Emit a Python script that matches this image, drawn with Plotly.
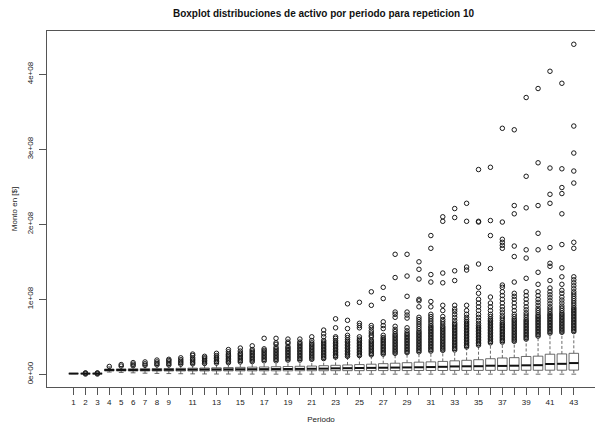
import plotly.graph_objects as go

SCALE = 1e8  # values below are in units of 1e8

periods = list(range(1, 44))

q1 = [0.010, 0.009, 0.009, 0.045, 0.045, 0.045, 0.045, 0.045, 0.045, 0.045,
      0.045, 0.045, 0.046, 0.046, 0.046, 0.046, 0.047, 0.047, 0.047, 0.048,
      0.048, 0.048, 0.049, 0.049, 0.049, 0.050, 0.050, 0.050, 0.050, 0.051,
      0.051, 0.051, 0.052, 0.052, 0.052, 0.053, 0.053, 0.053, 0.054, 0.054,
      0.055, 0.055, 0.056]
median = [0.010, 0.010, 0.010, 0.058, 0.058, 0.058, 0.059, 0.060, 0.061, 0.062,
          0.063, 0.064, 0.065, 0.066, 0.067, 0.068, 0.069, 0.070, 0.071, 0.072,
          0.074, 0.076, 0.080, 0.082, 0.084, 0.086, 0.088, 0.090, 0.092, 0.094,
          0.097, 0.100, 0.105, 0.107, 0.108, 0.115, 0.112, 0.115, 0.120, 0.122,
          0.138, 0.140, 0.150]
q3 = [0.010, 0.011, 0.011, 0.070, 0.072, 0.074, 0.075, 0.077, 0.078, 0.080,
      0.082, 0.084, 0.087, 0.090, 0.093, 0.096, 0.098, 0.101, 0.104, 0.107,
      0.110, 0.115, 0.120, 0.125, 0.130, 0.135, 0.142, 0.148, 0.155, 0.162,
      0.166, 0.172, 0.180, 0.187, 0.195, 0.208, 0.218, 0.222, 0.238, 0.242,
      0.268, 0.272, 0.280]
whisker_low = [0.010, 0.007, 0.007, 0.030, 0.025, 0.020, 0.015, 0.012, 0.010, 0.008,
               0.006, 0.005, 0.004, 0.004, 0.003, 0.003, 0.002, 0.002, 0.002, 0.002,
               0.002, 0.002, 0.002, 0.002, 0.002, 0.002, 0.002, 0.002, 0.002, 0.002,
               0.002, 0.002, 0.002, 0.002, 0.002, 0.002, 0.002, 0.002, 0.002, 0.002,
               0.002, 0.002, 0.002]
whisker_high = [0.010, 0.013, 0.013, 0.100, 0.105, 0.110, 0.115, 0.120, 0.120, 0.130,
                0.135, 0.140, 0.145, 0.150, 0.160, 0.165, 0.170, 0.175, 0.180, 0.185,
                0.190, 0.200, 0.220, 0.230, 0.240, 0.250, 0.260, 0.270, 0.280, 0.290,
                0.300, 0.310, 0.320, 0.360, 0.380, 0.410, 0.420, 0.430, 0.460, 0.500,
                0.540, 0.550, 0.560]

outliers = [
    [],
    [0.004, 0.016, 0.018],
    [0.004, 0.016, 0.018],
    [0.105],
    [0.11, 0.13],
    [0.115, 0.135, 0.156],
    [0.12, 0.14, 0.165],
    [0.125, 0.145, 0.165, 0.19],
    [0.125, 0.145, 0.165, 0.185, 0.20],
    [0.135, 0.155, 0.175, 0.195, 0.22],
    [0.14, 0.16, 0.18, 0.20, 0.22, 0.25, 0.27],
    [0.145, 0.165, 0.185, 0.205, 0.22, 0.24],
    [0.15, 0.17, 0.19, 0.21, 0.23, 0.25, 0.28],
    [0.155, 0.175, 0.195, 0.215, 0.235, 0.255, 0.27, 0.30, 0.33],
    [0.165, 0.185, 0.205, 0.225, 0.245, 0.265, 0.28, 0.31, 0.35],
    [0.17, 0.19, 0.21, 0.23, 0.25, 0.27, 0.29, 0.31, 0.33, 0.38],
    [0.18, 0.20, 0.22, 0.24, 0.26, 0.28, 0.30, 0.32, 0.34, 0.48],
    [0.18, 0.20, 0.22, 0.24, 0.26, 0.28, 0.30, 0.32, 0.34, 0.36, 0.40, 0.42, 0.48],
    [0.19, 0.21, 0.23, 0.25, 0.27, 0.29, 0.31, 0.33, 0.35, 0.37, 0.41, 0.43, 0.47],
    [0.19, 0.21, 0.23, 0.25, 0.27, 0.29, 0.31, 0.33, 0.35, 0.37, 0.39, 0.41, 0.43, 0.47],
    [0.20, 0.22, 0.24, 0.26, 0.28, 0.30, 0.32, 0.34, 0.36, 0.38, 0.40, 0.42, 0.45, 0.50],
    [0.21, 0.23, 0.25, 0.27, 0.29, 0.31, 0.33, 0.35, 0.37, 0.39, 0.41, 0.43, 0.45,
     0.50, 0.54, 0.59],
    [0.23, 0.25, 0.27, 0.29, 0.31, 0.33, 0.35, 0.37, 0.39, 0.41, 0.43, 0.45, 0.48,
     0.50, 0.62, 0.74],
    [0.24, 0.26, 0.28, 0.30, 0.32, 0.34, 0.36, 0.38, 0.40, 0.42, 0.44, 0.46, 0.49,
     0.52, 0.61, 0.72, 0.94],
    [0.25, 0.27, 0.29, 0.31, 0.33, 0.35, 0.37, 0.39, 0.41, 0.43, 0.45, 0.47, 0.50,
     0.62, 0.65, 0.68, 0.96],
    [0.26, 0.28, 0.30, 0.32, 0.34, 0.36, 0.38, 0.40, 0.42, 0.44, 0.46, 0.50, 0.52,
     0.55, 0.58, 0.62, 0.65, 0.92, 1.10],
    [0.27, 0.29, 0.31, 0.33, 0.35, 0.37, 0.39, 0.41, 0.43, 0.45, 0.47, 0.49, 0.52,
     0.61, 0.65, 0.70, 1.01, 1.16],
    [0.28, 0.30, 0.32, 0.34, 0.36, 0.38, 0.40, 0.42, 0.44, 0.46, 0.48, 0.50, 0.52,
     0.54, 0.57, 0.60, 0.64, 0.76, 0.80, 0.83, 1.29, 1.60],
    [0.29, 0.31, 0.33, 0.35, 0.37, 0.39, 0.41, 0.43, 0.45, 0.47, 0.49, 0.51, 0.53,
     0.55, 0.58, 0.62, 0.75, 0.79, 0.83, 1.04, 1.31, 1.60],
    [0.30, 0.32, 0.34, 0.36, 0.38, 0.40, 0.42, 0.44, 0.46, 0.48, 0.50, 0.52, 0.54,
     0.56, 0.58, 0.61, 0.64, 0.67, 0.70, 0.73, 0.76, 0.90, 0.98, 1.00, 1.27, 1.40, 1.50],
    [0.31, 0.33, 0.35, 0.37, 0.39, 0.41, 0.43, 0.45, 0.47, 0.49, 0.51, 0.53, 0.55,
     0.57, 0.59, 0.61, 0.63, 0.65, 0.68, 0.71, 0.74, 0.77, 0.80, 0.90, 0.97, 1.23,
     1.33, 1.68, 1.85],
    [0.32, 0.34, 0.36, 0.38, 0.40, 0.42, 0.44, 0.46, 0.48, 0.50, 0.52, 0.54, 0.56,
     0.58, 0.60, 0.62, 0.64, 0.67, 0.70, 0.73, 0.77, 0.85, 0.92, 1.22, 1.35, 2.04, 2.10],
    [0.325, 0.345, 0.365, 0.385, 0.405, 0.425, 0.445, 0.465, 0.485, 0.505, 0.525,
     0.545, 0.565, 0.585, 0.605, 0.625, 0.645, 0.665, 0.685, 0.72, 0.76, 0.80, 0.84,
     0.87, 0.92, 1.25, 1.38, 2.09, 2.21],
    [0.365, 0.385, 0.405, 0.425, 0.445, 0.465, 0.485, 0.505, 0.525, 0.545, 0.565,
     0.585, 0.605, 0.625, 0.645, 0.665, 0.685, 0.705, 0.73, 0.76, 0.80, 0.85, 0.92,
     1.39, 1.43, 2.04, 2.28],
    [0.39, 0.41, 0.43, 0.45, 0.47, 0.49, 0.51, 0.53, 0.55, 0.57, 0.59, 0.61, 0.63,
     0.65, 0.68, 0.72, 0.76, 0.80, 0.85, 0.90, 0.95, 1.00, 1.08, 1.16, 1.47, 2.03,
     2.04, 2.73],
    [0.42, 0.44, 0.46, 0.48, 0.50, 0.52, 0.54, 0.56, 0.58, 0.60, 0.62, 0.64, 0.66,
     0.68, 0.70, 0.72, 0.74, 0.77, 0.80, 0.85, 0.90, 0.95, 1.03, 1.41, 1.85, 2.05, 2.76],
    [0.43, 0.45, 0.47, 0.49, 0.51, 0.53, 0.55, 0.57, 0.59, 0.61, 0.63, 0.65, 0.67,
     0.69, 0.72, 0.75, 0.78, 0.82, 0.86, 0.90, 0.95, 1.00, 1.05, 1.10, 1.16, 1.19,
     1.68, 1.72, 1.76, 1.80, 2.03, 3.28],
    [0.44, 0.46, 0.48, 0.50, 0.52, 0.54, 0.56, 0.58, 0.60, 0.62, 0.64, 0.66, 0.68,
     0.70, 0.72, 0.74, 0.77, 0.80, 0.85, 0.90, 0.95, 1.00, 1.04, 1.08, 1.23, 1.57,
     1.71, 2.14, 2.25, 3.26],
    [0.47, 0.49, 0.51, 0.53, 0.55, 0.57, 0.59, 0.61, 0.63, 0.65, 0.67, 0.69, 0.71,
     0.73, 0.76, 0.79, 0.82, 0.86, 0.90, 0.95, 1.00, 1.05, 1.10, 1.28, 1.55, 1.66,
     2.22, 2.64, 3.69],
    [0.51, 0.53, 0.55, 0.57, 0.59, 0.61, 0.63, 0.65, 0.67, 0.69, 0.71, 0.73, 0.75,
     0.77, 0.79, 0.82, 0.85, 0.88, 0.92, 0.96, 1.00, 1.05, 1.10, 1.20, 1.36, 1.66,
     1.88, 2.25, 2.82, 3.81],
    [0.55, 0.57, 0.59, 0.61, 0.63, 0.65, 0.67, 0.69, 0.71, 0.73, 0.75, 0.77, 0.79,
     0.81, 0.84, 0.87, 0.90, 0.94, 0.98, 1.02, 1.06, 1.10, 1.15, 1.25, 1.44, 1.48,
     1.69, 2.28, 2.40, 2.75, 4.04],
    [0.56, 0.58, 0.60, 0.62, 0.64, 0.66, 0.68, 0.70, 0.72, 0.74, 0.76, 0.78, 0.80,
     0.82, 0.85, 0.88, 0.91, 0.95, 0.99, 1.03, 1.08, 1.12, 1.20, 1.30, 1.42, 1.73,
     2.14, 2.41, 2.49, 2.74, 3.88],
    [0.57, 0.59, 0.61, 0.63, 0.65, 0.67, 0.69, 0.71, 0.73, 0.75, 0.77, 0.79, 0.81,
     0.83, 0.85, 0.87, 0.89, 0.92, 0.95, 0.98, 1.01, 1.04, 1.07, 1.10, 1.14, 1.18,
     1.22, 1.26, 1.30, 1.68, 1.76, 2.55, 2.71, 2.95, 3.31, 4.40],
]

x_tick_labels = [str(p) if (p < 10 or p % 2 == 1) else "" for p in periods]
y_tick_vals = [0, 1, 2, 3, 4]
y_tick_labels = ["0e+00", "1e+08", "2e+08", "3e+08", "4e+08"]

title_text = "Boxplot distribuciones de activo por periodo para repeticion 10"
x_title = "Periodo"
y_title = "Monto en [$]"

# ---- styling ----
HALF_BOX = 0.4
HALF_STAPLE = 0.2
BOX_COLOR = "#444444"
FONT = "Liberation Sans, Arial, Helvetica, sans-serif"

box_x, box_y = [], []
med_x, med_y = [], []
wh_x, wh_y = [], []
st_x, st_y = [], []
out_x, out_y = [], []

for i, p in enumerate(periods):
    a, m, b = q1[i] * SCALE, median[i] * SCALE, q3[i] * SCALE
    lo, hi = whisker_low[i] * SCALE, whisker_high[i] * SCALE
    box_x += [p - HALF_BOX, p + HALF_BOX, p + HALF_BOX, p - HALF_BOX, p - HALF_BOX, None]
    box_y += [a, a, b, b, a, None]
    med_x += [p - HALF_BOX, p + HALF_BOX, None]
    med_y += [m, m, None]
    wh_x += [p, p, None, p, p, None]
    wh_y += [b, hi, None, a, lo, None]
    st_x += [p - HALF_STAPLE, p + HALF_STAPLE, None, p - HALF_STAPLE, p + HALF_STAPLE, None]
    st_y += [hi, hi, None, lo, lo, None]
    for v in outliers[i]:
        out_x.append(p)
        out_y.append(v * SCALE)

fig = go.Figure()
fig.add_trace(go.Scatter(x=wh_x, y=wh_y, mode="lines",
                         line=dict(color=BOX_COLOR, width=0.8, dash="3px,2px"),
                         hoverinfo="skip", showlegend=False))
fig.add_trace(go.Scatter(x=st_x, y=st_y, mode="lines",
                         line=dict(color=BOX_COLOR, width=0.8),
                         hoverinfo="skip", showlegend=False))
fig.add_trace(go.Scatter(x=box_x, y=box_y, mode="lines", fill="toself", fillcolor="white",
                         line=dict(color=BOX_COLOR, width=0.8),
                         hoverinfo="skip", showlegend=False))
fig.add_trace(go.Scatter(x=med_x, y=med_y, mode="lines",
                         line=dict(color="#111111", width=2),
                         hoverinfo="skip", showlegend=False))
fig.add_trace(go.Scatter(x=out_x, y=out_y, mode="markers",
                         marker=dict(symbol="circle-open", size=4.5,
                                     color="#1a1a1a", line=dict(width=1)),
                         showlegend=False))

fig.update_layout(
    width=595, height=430,
    margin=dict(l=47, r=0, t=31, b=43),
    paper_bgcolor="white", plot_bgcolor="white",
    font=dict(family=FONT, size=8, color="#222222"),
    title=dict(text="<b>" + title_text + "</b>", x=(47 + 600) / 2 / 595, xanchor="center",
               y=1 - 13.5 / 430, yanchor="middle",
               font=dict(family=FONT, size=10, color="#111111")),
    xaxis=dict(range=[-1.23, 44.78], tickmode="array", tickvals=periods,
               ticktext=x_tick_labels, ticks="outside", ticklen=7, tickwidth=0.8,
               tickcolor="#555555", showline=True, linecolor="#555555", linewidth=1,
               mirror=True, showgrid=False, zeroline=False,
               tickfont=dict(size=8, color="#222222"),
               title=dict(text=x_title, standoff=10, font=dict(size=8, color="#222222"))),
    yaxis=dict(range=[-0.169 * SCALE, 4.577 * SCALE], tickmode="array",
               tickvals=[v * SCALE for v in y_tick_vals], ticktext=y_tick_labels,
               tickangle=-90, ticks="outside", ticklen=7, tickwidth=0.8,
               ticklabelstandoff=3,
               tickcolor="#555555", showline=True, linecolor="#555555", linewidth=1,
               mirror=False, showgrid=False, zeroline=False,
               tickfont=dict(size=8, color="#222222"),
               title=dict(text=y_title, standoff=6, font=dict(size=8, color="#222222"))),
)

fig.write_html("out.html")
